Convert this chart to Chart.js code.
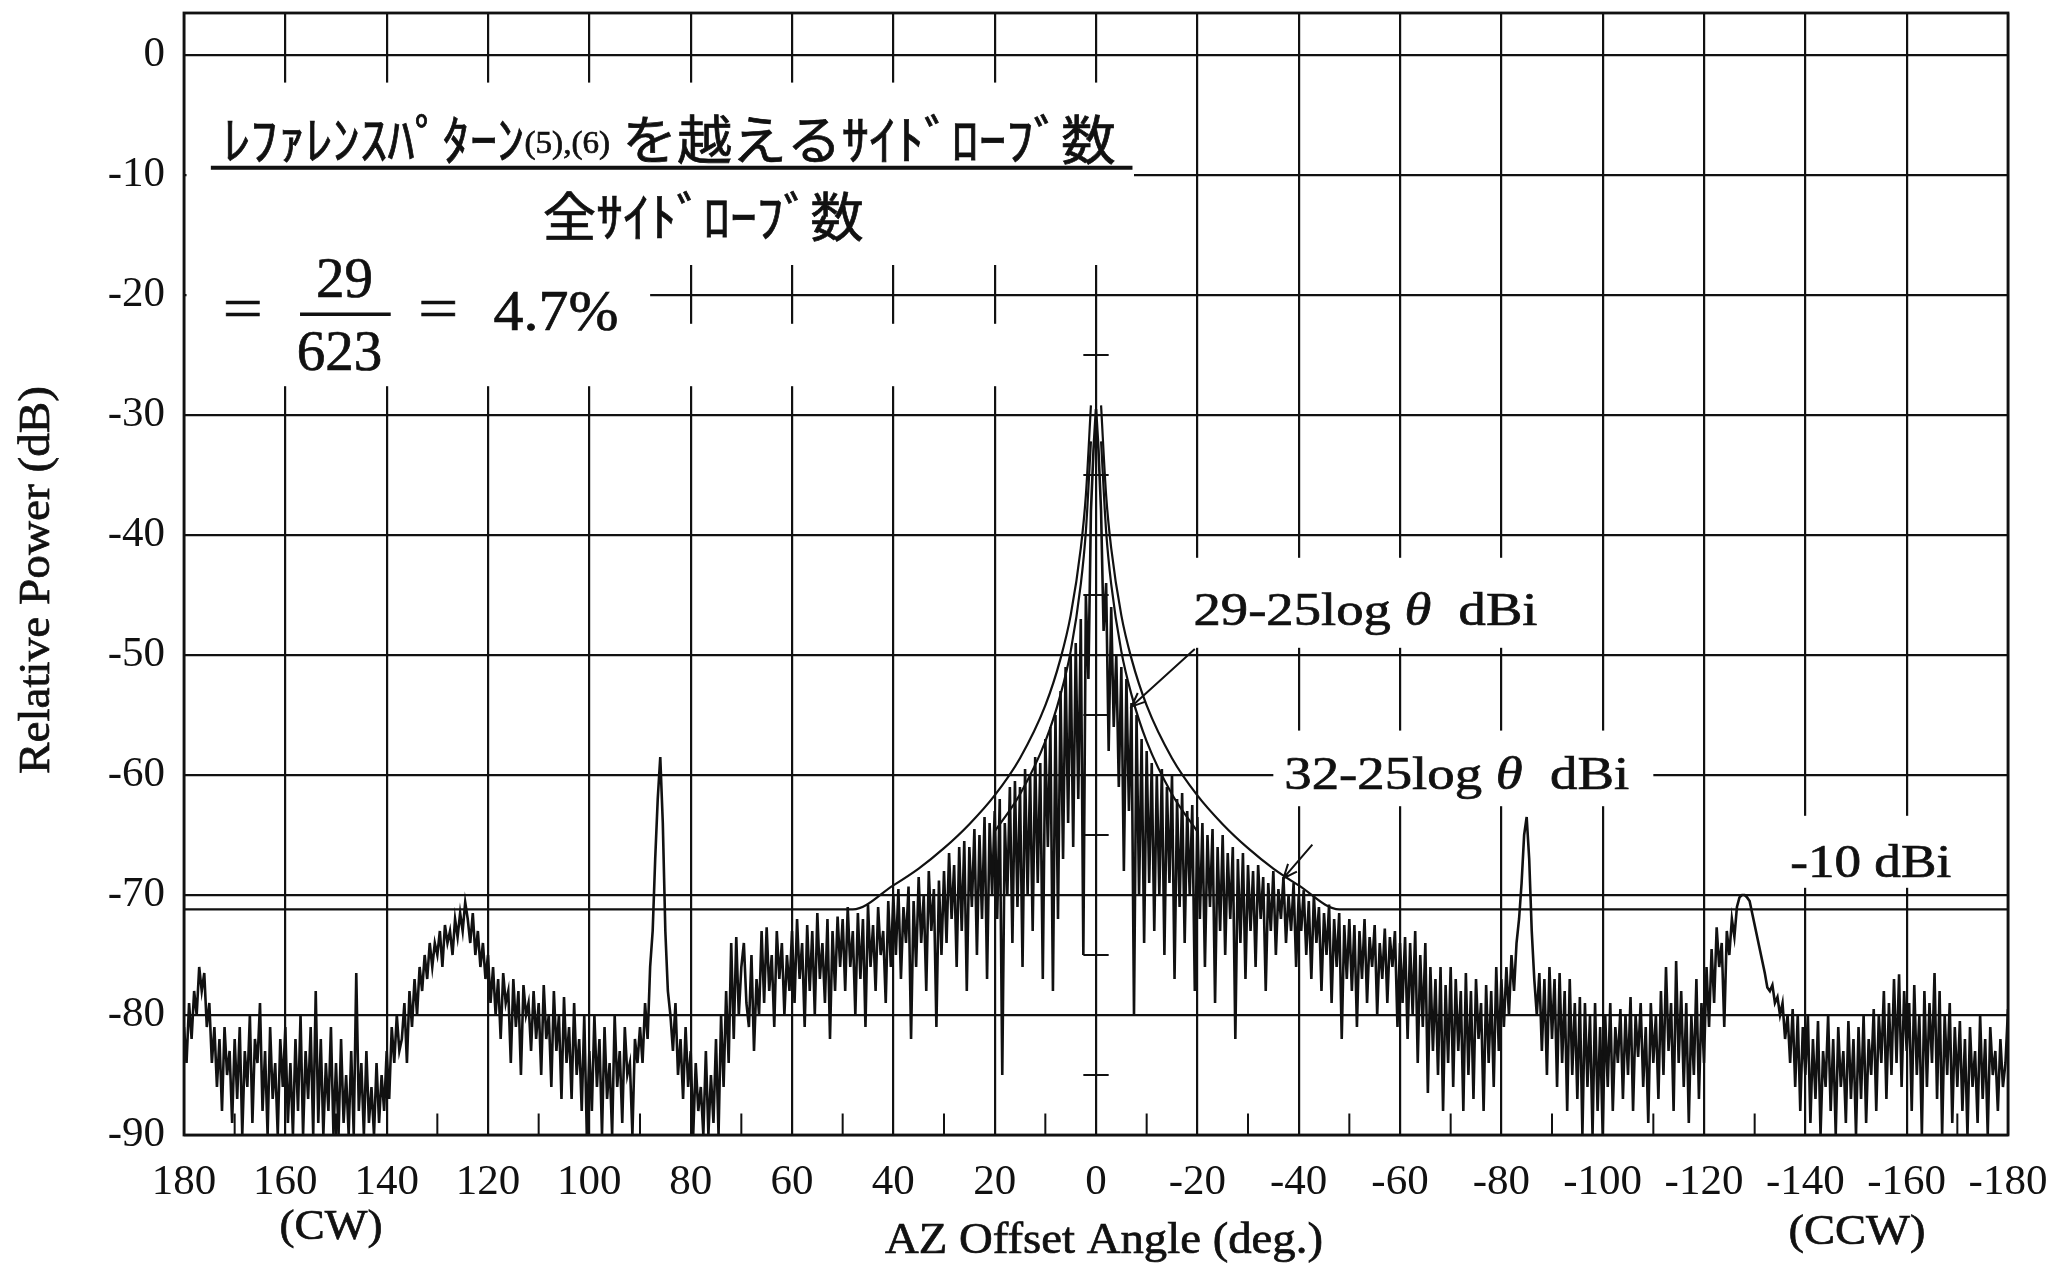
<html>
  <head>
    <meta charset="utf-8">
    <title>AZ pattern</title>
    <style>
      body { margin: 0; background: #fff; }
      .chart-container { position: relative; width: 2065px; height: 1274px; }
    </style>
    <script src="https://cdn.jsdelivr.net/npm/chart.js"></script>
  </head>
  <body>
    <div class="chart-container">
      <canvas id="patternChart" width="2065" height="1274"></canvas>
    </div>
    <script>
      // axis ticks
      const xTickDeg = [180, 160, 140, 120, 100, 80, 60, 40, 20, 0, -20, -40, -60, -80, -100, -120, -140, -160, -180];
      const yTickDb = [0, -10, -20, -30, -40, -50, -60, -70, -80, -90];
      const minorDeg = [170, 150, 130, 110, 90, 70, 50, 30, 10, -10, -30, -50, -70, -90, -110, -130, -150, -170];
      const centerTickDb = [-25, -35, -45, -55, -65, -75, -85];

      const traceStartDeg = 180;
      const traceStepDeg = 0.5;
      const traceDb = [
        -81, -84, -79, -82, -78, -80, -76, -78, -76.5, -81,
        -79, -84, -81, -86, -82, -88, -81, -85, -83, -89,
        -82, -87, -81, -90, -83, -86, -80, -89, -82, -84,
        -79, -88, -83, -90, -81, -87, -84, -90, -82, -86,
        -81, -89, -84, -90, -82, -88, -80, -90, -83, -87,
        -81, -90, -78, -89, -82, -90, -84, -88, -81, -90,
        -84, -90, -82, -89, -85, -90, -83, -90, -76.5, -88,
        -84, -90, -83, -89, -86, -90, -84, -89, -85, -88,
        -83, -87, -81, -84, -80, -83, -82, -79, -84, -78,
        -81, -77, -80, -76, -78, -75, -77, -74, -76, -74,
        -75, -73, -76, -72.5, -74, -73, -75, -72, -73.5, -71.5,
        -73, -70.6, -72, -74, -71.5, -75, -73, -76, -74, -77,
        -75, -79, -76, -80, -77, -82, -76.5, -79, -78, -84,
        -77, -81, -78, -85, -77.5, -80, -79, -83, -78, -82,
        -79, -85, -77.5, -82, -80, -86, -78, -83, -80, -87,
        -78.5, -84, -81, -87, -79, -85, -82, -88, -80, -90,
        -83, -88, -80, -86, -82, -90, -81, -87, -84, -90,
        -80, -86, -83, -89, -81, -85, -84, -90, -82, -84,
        -81, -84, -79, -82, -76, -73, -67, -62, -58.5, -64,
        -73, -78, -80, -83, -79, -85, -82, -87, -81, -86,
        -83, -90, -84, -88, -86, -90, -83, -90, -85, -89,
        -82, -90, -80, -86, -78, -84, -74, -82, -73.5, -80,
        -76, -74, -79, -81, -75, -83, -77, -80, -73, -79,
        -72.7, -78, -75, -81, -73, -77, -74, -80, -75, -78,
        -73, -79, -72, -77, -74, -81, -72.5, -78, -73, -80,
        -71.5, -77, -74, -79, -72, -82, -73, -78, -71.8, -76,
        -72, -78, -71, -76, -73, -80, -71.5, -77, -72, -81,
        -70.8, -76, -72.5, -78, -71, -75, -73, -79, -70.5, -76,
        -70, -75, -69.5, -77, -71, -74, -69.3, -82, -70.5, -76,
        -68.5, -74, -70, -78, -68, -73, -69.5, -81, -68.8, -75,
        -68, -74, -66.5, -72, -67.5, -76, -66, -73, -65.5, -78,
        -66, -71, -64.5, -75, -65, -72, -63.5, -77, -64, -70,
        -63, -72, -62, -85, -64, -70, -61, -74, -60.5, -71,
        -61, -76, -59.5, -70, -60, -73, -58.5, -69, -59, -77,
        -57, -66, -56, -78, -55, -72, -53, -67, -51, -64,
        -50, -66, -49, -62, -47, -75, -45, -52, -38, -33,
        -29.5,
        -33, -38, -48, -44, -58, -46, -56, -50, -61, -51,
        -68, -52, -63, -54, -80, -55, -70, -57, -74, -58,
        -69, -59, -73, -60, -70, -59.5, -75, -61, -69, -60,
        -77, -62, -71, -61.5, -74, -63, -70, -62.5, -78, -63.5,
        -72, -64, -76, -65, -71, -64.5, -79, -66, -73, -65,
        -75, -66.5, -72, -66, -82, -67, -74, -66.5, -77, -67.5,
        -73, -68, -76, -67.5, -72, -68.5, -78, -69, -73, -68,
        -75, -69.5, -72, -68.5, -74, -70, -73, -69, -76, -70,
        -73, -69.6, -75, -70.5, -77, -70, -74, -71, -78, -71.5,
        -75, -70.8, -79, -72, -76, -71.5, -82, -72.5, -77, -72,
        -78, -72.5, -81, -73, -77, -72, -79, -73.5, -76, -72.5,
        -80, -74, -77, -72.8, -79, -73.5, -76, -73, -81, -74,
        -79, -73.5, -82, -74, -80, -73, -84, -75, -81, -74,
        -86.5, -76, -83, -77, -85, -76, -88, -77.5, -84, -76,
        -86, -77, -83, -78, -88, -76.5, -85, -78, -87, -77,
        -82, -79, -88, -77.5, -84, -78, -86, -76, -83, -77,
        -81, -76, -80, -75, -78, -74, -72, -69, -65, -63.5,
        -67, -73, -77, -80, -76.5, -83, -77, -85, -76, -82,
        -77, -86, -76.5, -84, -78, -88, -77, -85, -79, -87,
        -78.5, -90, -79, -86, -80, -90, -79, -88, -81, -90,
        -80, -86, -79, -88, -81, -84, -79.5, -87, -80, -85,
        -78.5, -88, -80, -83.5, -79, -86, -81, -89, -79, -84,
        -80, -87, -78, -85, -76, -83, -79, -88, -75.5, -84,
        -78, -86, -79, -89, -80, -85, -77, -87, -79, -84,
        -76, -81, -74.5, -79, -72.7, -76, -74, -81, -73, -75,
        -72, -73.5, -71, -70.2, -70, -70, -70.2, -70.5, -71.5, -72.5,
        -73.5, -74.5, -75.5, -76.5, -77.7, -78, -77.5, -79, -78.5, -80,
        -79, -82, -80, -84, -79.5, -86, -80, -88, -81, -85,
        -80, -89, -82, -87, -80.5, -90, -83, -86, -80, -88,
        -82, -90, -81, -86, -83, -89, -80.5, -87, -82, -90,
        -81, -87, -80, -89, -82, -85, -79.5, -88, -80, -84,
        -78, -87, -79, -85, -77, -84, -76.6, -86, -78, -83,
        -79, -88, -77.5, -85, -80, -90, -78, -86, -79, -84,
        -76.5, -87, -78, -90, -80, -85, -79, -89, -81, -86,
        -80.5, -88, -82, -90, -81, -86, -83, -89, -80, -87,
        -82, -90, -81, -85, -83, -88, -82, -86, -84, -79.5
      ];

      // reference envelopes (same on both sides of 0)
      const outerDeg = [180, 48, 40, 35, 30, 25, 20, 15, 10, 7, 5, 3, 2, 1];
      const outerDb = [-71.2, -71.2, -69.2, -67.8, -66.1, -64.1, -61.7, -58.6, -54.2, -50.3, -46.7, -41.1, -36.7, -29.2];
      const innerDeg = [20, 15, 10, 7, 5, 3, 2, 1];
      const innerDb = [-64.7, -61.6, -57.2, -53.3, -49.7, -44.1, -39.7, -32.2];

      const serif = '"Liberation Serif", "DejaVu Serif", serif';
      const jp = '"Noto Sans CJK JP", sans-serif';
      const ink = '#111';

      const tracePts = traceDb.map((v, i) => ({ x: traceStartDeg - i * traceStepDeg, y: v }));
      const side = (deg, db, sign) => deg.map((d, i) => ({ x: sign * d, y: db[i] }));

      // white boxes behind the annotation text, in axis units [deg1, deg2, dB1, dB2]
      const maskBoxes = [
        [179.5, -7.5, -2.3, -17.5],
        [179.5, 88, -17.5, -27.6],
        [88, 1.5, -22.4, -27.6],
        [-17.5, -92, -41.9, -49.4],
        [-35, -110, -56.3, -62.6],
        [-132, -172, -63.4, -69.4]
      ];

      function fontOf(p, size) {
        return (p.it ? 'italic ' : '') + Math.round(size * (p.k || 1)) + 'px ' + (p.f || serif);
      }

      // draw a run of text pieces centred on (cx, cy), stretched to the given width
      function drawRun(ctx, parts, cx, cy, size, width, rot) {
        let total = 0;
        parts.forEach(p => {
          ctx.font = fontOf(p, size);
          p.w = ctx.measureText(p.t).width;
          total += p.w;
        });
        const sx = width ? width / total : 1;
        ctx.save();
        ctx.translate(cx, cy);
        if (rot) ctx.rotate(rot);
        ctx.scale(sx, 1);
        ctx.fillStyle = ink;
        ctx.strokeStyle = ink;
        ctx.lineWidth = 0.7;
        ctx.textAlign = 'left';
        ctx.textBaseline = 'middle';
        let xx = -total / 2;
        parts.forEach(p => {
          ctx.font = fontOf(p, size);
          ctx.fillText(p.t, xx, (p.dy || 0) * size);
          ctx.strokeText(p.t, xx, (p.dy || 0) * size);
          xx += p.w;
        });
        ctx.restore();
      }

      function arrow(ctx, x1, y1, x2, y2) {
        const a = Math.atan2(y2 - y1, x2 - x1);
        ctx.beginPath();
        ctx.moveTo(x1, y1);
        ctx.lineTo(x2, y2);
        ctx.moveTo(x2 - 15 * Math.cos(a - 0.4), y2 - 15 * Math.sin(a - 0.4));
        ctx.lineTo(x2, y2);
        ctx.lineTo(x2 - 15 * Math.cos(a + 0.4), y2 - 15 * Math.sin(a + 0.4));
        ctx.stroke();
      }

      const overlay = {
        id: 'overlay',
        beforeDatasetsDraw(chart) {
          const { ctx, chartArea: ca, scales: { x, y } } = chart;
          ctx.save();
          ctx.fillStyle = '#fff';
          maskBoxes.forEach(m => {
            const x1 = x.getPixelForValue(m[0]), x2 = x.getPixelForValue(m[1]);
            const y1 = y.getPixelForValue(m[2]), y2 = y.getPixelForValue(m[3]);
            ctx.fillRect(Math.min(x1, x2), Math.min(y1, y2), Math.abs(x2 - x1), Math.abs(y2 - y1));
          });

          // frame
          ctx.strokeStyle = ink;
          ctx.lineWidth = 2.8;
          ctx.strokeRect(ca.left, ca.top, ca.right - ca.left, ca.bottom - ca.top);

          // small ticks on the bottom edge and on the 0 deg line
          ctx.lineWidth = 2;
          ctx.beginPath();
          minorDeg.forEach(d => {
            const px = x.getPixelForValue(d);
            ctx.moveTo(px, ca.bottom);
            ctx.lineTo(px, y.getPixelForValue(-88.2));
          });
          centerTickDb.forEach(v => {
            const py = y.getPixelForValue(v);
            ctx.moveTo(x.getPixelForValue(2.5), py);
            ctx.lineTo(x.getPixelForValue(-2.5), py);
          });
          ctx.stroke();

          // ratio block
          drawRun(ctx, [
            { t: 'ﾚﾌｧﾚﾝｽﾊﾟﾀｰﾝ', f: jp },
            { t: '(5),(6)', k: 0.6, dy: 0.08 },
            { t: ' を越える', f: jp },
            { t: 'ｻｲﾄﾞﾛｰﾌﾞ', f: jp },
            { t: '数', f: jp }
          ], x.getPixelForValue(84.2), y.getPixelForValue(-7.1), 53, 893);
          ctx.lineWidth = 4;
          ctx.beginPath();
          ctx.moveTo(x.getPixelForValue(174.7), y.getPixelForValue(-9.4));
          ctx.lineTo(x.getPixelForValue(-7.2), y.getPixelForValue(-9.4));
          ctx.stroke();
          drawRun(ctx, [{ t: '全', f: jp }, { t: 'ｻｲﾄﾞﾛｰﾌﾞ数', f: jp }],
            x.getPixelForValue(77.5), y.getPixelForValue(-13.5), 53, 321);

          drawRun(ctx, [{ t: '=' }], x.getPixelForValue(168.4), y.getPixelForValue(-21.4), 60, 40);
          drawRun(ctx, [{ t: '29' }], x.getPixelForValue(148.3), y.getPixelForValue(-18.9), 57);
          drawRun(ctx, [{ t: '623' }], x.getPixelForValue(149.3), y.getPixelForValue(-25.0), 57);
          drawRun(ctx, [{ t: '=' }], x.getPixelForValue(129.8), y.getPixelForValue(-21.4), 60, 40);
          drawRun(ctx, [{ t: '4.7%' }], x.getPixelForValue(106.6), y.getPixelForValue(-21.7), 57, 125);
          ctx.lineWidth = 3.5;
          ctx.beginPath();
          ctx.moveTo(x.getPixelForValue(157.1), y.getPixelForValue(-21.6));
          ctx.lineTo(x.getPixelForValue(139.2), y.getPixelForValue(-21.6));
          ctx.stroke();

          // envelope labels
          drawRun(ctx, [{ t: '29-25log ' }, { t: 'θ', it: true }, { t: '  dBi' }],
            x.getPixelForValue(-53.2), y.getPixelForValue(-46.5), 46, 344);
          drawRun(ctx, [{ t: '32-25log ' }, { t: 'θ', it: true }, { t: '  dBi' }],
            x.getPixelForValue(-71.2), y.getPixelForValue(-60.2), 46, 345);
          drawRun(ctx, [{ t: '-10 dBi' }],
            x.getPixelForValue(-152.9), y.getPixelForValue(-67.5), 46, 161);
          ctx.restore();
        },
        afterDatasetsDraw(chart) {
          const { ctx, scales: { x, y } } = chart;
          ctx.save();
          ctx.strokeStyle = ink;
          ctx.lineWidth = 2;
          arrow(ctx, x.getPixelForValue(-19.5), y.getPixelForValue(-49.5), x.getPixelForValue(-7), y.getPixelForValue(-54.3));
          arrow(ctx, x.getPixelForValue(-42.7), y.getPixelForValue(-65.8), x.getPixelForValue(-37), y.getPixelForValue(-68.6));
          ctx.restore();
        },
        afterDraw(chart) {
          const ctx = chart.ctx;
          ctx.save();
          drawRun(ctx, [{ t: '(CW)' }], 331, 1228, 43, 103);
          drawRun(ctx, [{ t: '(CCW)' }], 1857, 1233, 43, 137);
          drawRun(ctx, [{ t: 'AZ Offset Angle (deg.)' }], 1104, 1241, 44, 438);
          drawRun(ctx, [{ t: 'Relative Power (dB)' }], 37, 580, 44, 388, -Math.PI / 2);
          ctx.restore();
        }
      };

      const lineStyle = { borderColor: ink, pointRadius: 0, fill: false };

      new Chart(document.getElementById('patternChart'), {
        type: 'line',
        data: {
          datasets: [
            Object.assign({ data: tracePts, borderWidth: 2.6, tension: 0 }, lineStyle),
            Object.assign({ data: side(outerDeg, outerDb, 1), borderWidth: 2.2, cubicInterpolationMode: 'monotone' }, lineStyle),
            Object.assign({ data: side(outerDeg, outerDb, -1), borderWidth: 2.2, cubicInterpolationMode: 'monotone' }, lineStyle),
            Object.assign({ data: side(innerDeg, innerDb, 1), borderWidth: 2.2, cubicInterpolationMode: 'monotone' }, lineStyle),
            Object.assign({ data: side(innerDeg, innerDb, -1), borderWidth: 2.2, cubicInterpolationMode: 'monotone' }, lineStyle)
          ]
        },
        options: {
          responsive: false,
          animation: false,
          devicePixelRatio: 1,
          layout: { padding: { top: 13, right: 57, left: 0, bottom: 0 } },
          plugins: { legend: { display: false }, tooltip: { enabled: false } },
          scales: {
            x: {
              type: 'linear',
              reverse: true,
              min: -180,
              max: 180,
              afterFit: s => { s.height = 139; s.paddingLeft = 0; s.paddingRight = 0; },
              afterBuildTicks: s => { s.ticks = xTickDeg.map(v => ({ value: v })); },
              grid: { color: ink, lineWidth: 2.2, drawTicks: false },
              border: { display: false },
              ticks: { autoSkip: false, maxRotation: 0, padding: 22, color: ink, font: { family: serif, size: 43 } }
            },
            y: {
              min: -90,
              max: 3.5,
              afterFit: s => { s.width = 184; s.paddingTop = 0; s.paddingBottom = 0; },
              afterBuildTicks: s => { s.ticks = yTickDb.map(v => ({ value: v })); },
              grid: { color: ink, lineWidth: 2.2, drawTicks: false },
              border: { display: false },
              ticks: { padding: 19, color: ink, font: { family: serif, size: 43 } }
            }
          }
        },
        plugins: [overlay]
      });
    </script>
  </body>
</html>
